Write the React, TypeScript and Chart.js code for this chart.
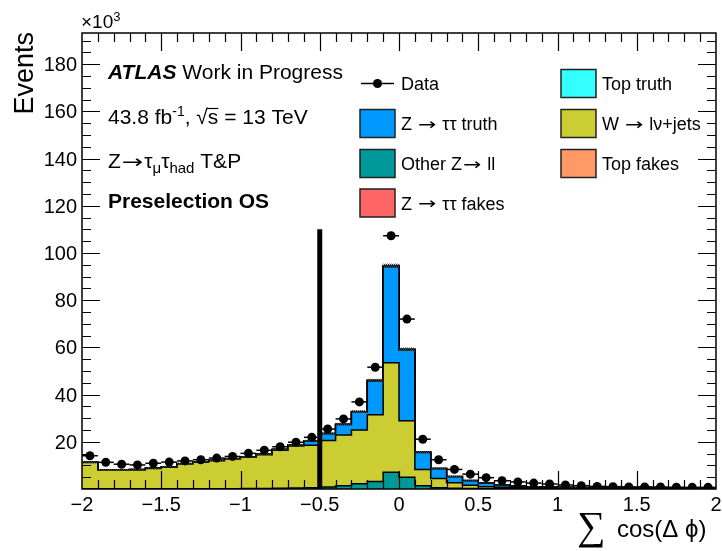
import React, { useEffect, useRef } from 'react';
import { Chart, registerables } from 'chart.js';
Chart.register(...registerables);

// ---------- data (units of 10^3 events) ----------
const binLowEdges = [
  -2.0, -1.9, -1.8, -1.7, -1.6, -1.5, -1.4, -1.3, -1.2, -1.1,
  -1.0, -0.9, -0.8, -0.7, -0.6, -0.5, -0.4, -0.3, -0.2, -0.1,
  0.0, 0.1, 0.2, 0.3, 0.4, 0.5, 0.6, 0.7, 0.8, 0.9,
  1.0, 1.1, 1.2, 1.3, 1.4, 1.5, 1.6, 1.7, 1.8, 1.9,
];
const binWidth = 0.1;

const dataValues = [
  14.1, 11.3, 10.5, 10.2, 10.9, 11.4, 11.9, 12.4, 13.1, 13.8,
  15.1, 16.4, 17.9, 19.8, 21.9, 25.4, 29.7, 36.9, 51.6, 107.3,
  72.0, 21.1, 12.4, 8.3, 6.3, 4.8, 3.5, 3.0, 2.5, 2.1,
  1.7, 1.4, 1.1, 1.0, 0.9, 0.9, 0.85, 0.75, 0.7, 0.7,
];
const otherZll = [
  0.1, 0.1, 0.1, 0.1, 0.1, 0.1, 0.1, 0.1, 0.15, 0.15,
  0.2, 0.2, 0.3, 0.4, 0.5, 0.8, 1.4, 2.2, 3.2, 7.1,
  5.0, 1.4, 0.5, 0.3, 0.2, 0.15, 0.1, 0.1, 0.1, 0.08,
  0.07, 0.06, 0.05, 0.05, 0.05, 0.04, 0.04, 0.04, 0.03, 0.03,
];
const wJets = [
  11.1, 7.9, 7.9, 8.0, 8.6, 9.1, 10.5, 11.2, 11.85, 12.55,
  13.2, 14.3, 16.1, 17.8, 18.0, 19.8, 21.5, 22.8, 28.3, 46.4,
  23.9, 6.9, 4.0, 2.4, 1.4, 0.85, 0.6, 0.4, 0.3, 0.22,
  0.18, 0.14, 0.15, 0.15, 0.1, 0.11, 0.11, 0.06, 0.07, 0.07,
];
const zttTruth = [
  0.1, 0.1, 0.1, 0.1, 0.1, 0.1, 0.1, 0.1, 0.1, 0.1,
  0.1, 0.2, 0.3, 0.4, 1.8, 2.8, 4.4, 7.6, 14.3, 40.7,
  30.0, 7.2, 4.1, 2.5, 1.9, 1.4, 1.0, 0.7, 0.5, 0.45,
  0.4, 0.35, 0.3, 0.25, 0.25, 0.2, 0.2, 0.2, 0.2, 0.2,
];
const zttFakes = [
  0.02, 0.02, 0.02, 0.02, 0.02, 0.02, 0.02, 0.02, 0.02, 0.02,
  0.03, 0.03, 0.03, 0.04, 0.05, 0.06, 0.08, 0.1, 0.15, 0.3,
  0.2, 0.08, 0.05, 0.04, 0.03, 0.02, 0.02, 0.02, 0.02, 0.02,
  0.02, 0.02, 0.02, 0.02, 0.02, 0.02, 0.02, 0.02, 0.02, 0.02,
];
const topTruth = [
  0.02, 0.02, 0.02, 0.02, 0.02, 0.02, 0.02, 0.02, 0.02, 0.02,
  0.02, 0.02, 0.02, 0.02, 0.03, 0.03, 0.03, 0.04, 0.05, 0.08,
  0.06, 0.04, 0.03, 0.03, 0.02, 0.02, 0.02, 0.02, 0.02, 0.02,
  0.02, 0.02, 0.02, 0.02, 0.02, 0.02, 0.02, 0.02, 0.02, 0.02,
];
const topFakes = [
  0.03, 0.03, 0.03, 0.03, 0.03, 0.03, 0.03, 0.03, 0.03, 0.03,
  0.03, 0.03, 0.04, 0.04, 0.05, 0.05, 0.06, 0.07, 0.08, 0.1,
  0.08, 0.06, 0.05, 0.04, 0.03, 0.03, 0.03, 0.03, 0.03, 0.03,
  0.03, 0.03, 0.03, 0.03, 0.03, 0.03, 0.03, 0.03, 0.03, 0.03,
];
const mcUncertainty = [
  0.4, 0.3, 0.3, 0.3, 0.3, 0.3, 0.3, 0.35, 0.35, 0.35,
  0.35, 0.4, 0.4, 0.4, 0.45, 0.5, 0.5, 0.6, 0.6, 0.8,
  0.7, 0.4, 0.3, 0.3, 0.2, 0.2, 0.15, 0.15, 0.1, 0.1,
  0.1, 0.1, 0.1, 0.1, 0.1, 0.1, 0.1, 0.1, 0.1, 0.1,
];

const xTickValues = [-2, -1.5, -1, -0.5, 0, 0.5, 1, 1.5, 2];
const xTickLabels = ['\u22122', '\u22121.5', '\u22121', '\u22120.5', '0', '0.5', '1', '1.5', '2'];
const yTickValues = [20, 40, 60, 80, 100, 120, 140, 160, 180];
const yTickLabels = ['20', '40', '60', '80', '100', '120', '140', '160', '180'];
const xMin = -2;
const xMax = 2;
const yMax = 193.2;
const xMinorStep = 0.1;
const yMinorStep = 5;
const cutValue = -0.5;
const cutHeight = 110;

const mcSeries = [
  { label: 'Other Z\u2192 ll', values: otherZll, color: '#009999' },
  { label: 'W \u2192 l\u03bd+jets', values: wJets, color: '#cccc33' },
  { label: 'Z \u2192 \u03c4\u03c4 truth', values: zttTruth, color: '#0099ff' },
  { label: 'Z \u2192 \u03c4\u03c4 fakes', values: zttFakes, color: '#ff6666' },
  { label: 'Top truth', values: topTruth, color: '#33ffff' },
  { label: 'Top fakes', values: topFakes, color: '#ff9966' },
];

const legendLeft = ['Data', 'Z \u2192 \u03c4\u03c4 truth', 'Other Z\u2192 ll', 'Z \u2192 \u03c4\u03c4 fakes'];
const legendRight = ['Top truth', 'W \u2192 l\u03bd+jets', 'Top fakes'];

const SANS = '"Liberation Sans", Arial, Helvetica, sans-serif';
const ARROW_FONT = '"DejaVu Sans", sans-serif';

function stepPoints(vals: number[]) {
  const pts = binLowEdges.map((x, i) => ({ x, y: vals[i] }));
  const last = binLowEdges.length - 1;
  pts.push({ x: binLowEdges[last] + binWidth, y: vals[last] });
  return pts;
}

function colorOf(label: string) {
  const s = mcSeries.find((m) => m.label === label);
  return s ? s.color : '#000';
}

// draws text; the "→" glyph is drawn wider, like ROOT's symbol-font arrow
function drawRich(ctx: CanvasRenderingContext2D, parts: any[], x: number, y: number) {
  let cx = x;
  for (const p of parts) {
    const pieces = String(p.t).split(/(\u2192)/);
    for (const piece of pieces) {
      if (!piece) continue;
      const yy = y + (p.dy || 0);
      if (piece === '\u2192') {
        ctx.font = `${p.size * 0.9}px ${ARROW_FONT}`;
        const w = ctx.measureText(piece).width;
        ctx.save();
        ctx.translate(cx + 1, yy - 0.5);
        ctx.scale(1.35, 1);
        ctx.fillText(piece, 0, 0);
        ctx.restore();
        cx += w * 1.35 + 2;
      } else {
        ctx.font = `${p.style || ''} ${p.weight || ''} ${p.size}px ${SANS}`;
        ctx.fillText(piece, cx, yy);
        cx += ctx.measureText(piece).width;
      }
    }
  }
  return cx;
}

const decorPlugin = {
  id: 'decor',
  beforeDatasetDraw(chart: any, args: any) {
    const ds = chart.data.datasets[args.index];
    const ctx: CanvasRenderingContext2D = chart.ctx;
    const xs = chart.scales.x;
    const ys = chart.scales.y;
    if (ds.label === 'cut') {
      const pc = document.createElement('canvas');
      pc.width = 2; pc.height = 2;
      const pctx = pc.getContext('2d')!;
      pctx.fillStyle = '#444';
      pctx.fillRect(0, 0, 1, 1);
      pctx.fillRect(1, 1, 1, 1);
      const pattern = ctx.createPattern(pc, 'repeat')!;
      ctx.save();
      ctx.fillStyle = pattern;
      binLowEdges.forEach((x0, i) => {
        const total = mcSeries.reduce((s, m) => s + m.values[i], 0);
        const xa = xs.getPixelForValue(x0);
        const xb = xs.getPixelForValue(x0 + binWidth);
        const ya = ys.getPixelForValue(total + mcUncertainty[i]);
        const yb = ys.getPixelForValue(Math.max(0, total - mcUncertainty[i]));
        ctx.fillRect(xa, ya, xb - xa, yb - ya);
      });
      ctx.restore();
    }
    if (ds.label === 'Data') {
      ctx.save();
      ctx.strokeStyle = '#000';
      ctx.lineWidth = 1.5;
      binLowEdges.forEach((x0, i) => {
        const y = ys.getPixelForValue(dataValues[i]);
        ctx.beginPath();
        ctx.moveTo(xs.getPixelForValue(x0), y);
        ctx.lineTo(xs.getPixelForValue(x0 + binWidth), y);
        ctx.stroke();
      });
      ctx.restore();
    }
  },
  afterDraw(chart: any) {
    const ctx: CanvasRenderingContext2D = chart.ctx;
    const a = chart.chartArea;
    const xs = chart.scales.x;
    const ys = chart.scales.y;
    ctx.save();
    ctx.strokeStyle = '#000';
    ctx.fillStyle = '#000';

    ctx.lineWidth = 1.5;
    ctx.strokeRect(a.left, a.top, a.right - a.left, a.bottom - a.top);

    const nx = Math.round((xMax - xMin) / xMinorStep);
    for (let k = 1; k < nx; k++) {
      const v = xMin + k * xMinorStep;
      const major = Math.abs(v * 2 - Math.round(v * 2)) < 1e-6;
      const len = major ? 18 : 9;
      const px = Math.round(xs.getPixelForValue(v)) + 0.5;
      ctx.lineWidth = 1.2;
      ctx.beginPath();
      ctx.moveTo(px, a.bottom);
      ctx.lineTo(px, a.bottom - len);
      ctx.moveTo(px, a.top);
      ctx.lineTo(px, a.top + len);
      ctx.stroke();
    }
    for (let v = yMinorStep; v < yMax; v += yMinorStep) {
      const major = v % 20 === 0;
      const len = major ? 18 : 9;
      const py = Math.round(ys.getPixelForValue(v)) + 0.5;
      ctx.lineWidth = 1.2;
      ctx.beginPath();
      ctx.moveTo(a.left, py);
      ctx.lineTo(a.left + len, py);
      ctx.moveTo(a.right, py);
      ctx.lineTo(a.right - len, py);
      ctx.stroke();
    }

    ctx.font = `20px ${SANS}`;
    ctx.textBaseline = 'alphabetic';
    ctx.textAlign = 'center';
    xTickValues.forEach((v, i) => {
      ctx.fillText(xTickLabels[i], xs.getPixelForValue(v), a.bottom + 22);
    });
    ctx.textAlign = 'right';
    yTickValues.forEach((v, i) => {
      ctx.fillText(yTickLabels[i], a.left - 5, ys.getPixelForValue(v) + 7);
    });

    ctx.textAlign = 'left';
    const e = drawRich(ctx, [{ t: '\u00d710', size: 19 }], a.left - 1, 28);
    drawRich(ctx, [{ t: '3', size: 13 }], e, 21);

    ctx.save();
    ctx.translate(33, a.top - 1);
    ctx.rotate(-Math.PI / 2);
    ctx.textAlign = 'right';
    ctx.font = `27px ${SANS}`;
    ctx.fillText('Events', 0, 0);
    ctx.restore();

    ctx.textAlign = 'left';
    const serif = '"Liberation Serif", "DejaVu Serif", serif';
    ctx.font = `100px ${serif}`;
    const m0 = ctx.measureText('\u2211');
    const h0 = m0.actualBoundingBoxAscent + m0.actualBoundingBoxDescent;
    const sz = (100 * 35) / (h0 || 70);
    ctx.font = `${sz}px ${serif}`;
    const m1 = ctx.measureText('\u2211');
    ctx.fillText('\u2211', 578 + m1.actualBoundingBoxLeft, 512 + m1.actualBoundingBoxAscent);
    ctx.font = `24px ${SANS}`;
    ctx.fillText('cos(\u0394 \u03d5)', 617, 537);

    const tx = 108;
    drawRich(ctx, [
      { t: 'ATLAS', size: 21, weight: 'bold', style: 'italic' },
      { t: ' Work in Progress', size: 21 },
    ], tx, 79);
    const c = drawRich(ctx, [
      { t: '43.8 fb', size: 21 },
      { t: '-1', size: 14, dy: -8 },
      { t: ', \u221a', size: 21 },
    ], tx, 124);
    ctx.font = `21px ${SANS}`;
    const sw = ctx.measureText('s').width;
    ctx.lineWidth = 1.2;
    ctx.beginPath();
    ctx.moveTo(c - 1, 124 - 15.5);
    ctx.lineTo(c + sw, 124 - 15.5);
    ctx.stroke();
    drawRich(ctx, [{ t: 's = 13 TeV', size: 21 }], c, 124);
    drawRich(ctx, [
      { t: 'Z\u2192\u03c4', size: 21 },
      { t: '\u03bc', size: 15, dy: 5 },
      { t: '\u03c4', size: 21 },
      { t: 'had', size: 15, dy: 5 },
      { t: ' T&P', size: 21 },
    ], tx, 168);
    drawRich(ctx, [{ t: 'Preselection OS', size: 21, weight: 'bold' }], tx, 208);

    const rowY = [83.5, 123.5, 163.5, 203];
    const drawEntry = (label: string, bx: number, cy: number) => {
      ctx.textAlign = 'left';
      if (label === 'Data') {
        ctx.lineWidth = 1.5;
        ctx.beginPath();
        ctx.moveTo(bx + 1, cy);
        ctx.lineTo(bx + 34, cy);
        ctx.stroke();
        ctx.beginPath();
        ctx.arc(bx + 17.5, cy, 4.5, 0, Math.PI * 2);
        ctx.fill();
      } else {
        ctx.fillStyle = colorOf(label);
        ctx.fillRect(bx, cy - 14, 35, 28);
        ctx.strokeStyle = '#222';
        ctx.lineWidth = 1.5;
        ctx.strokeRect(bx, cy - 14, 35, 28);
        ctx.fillStyle = '#000';
        ctx.strokeStyle = '#000';
      }
      drawRich(ctx, [{ t: label, size: 18 }], bx + 41, cy + 6.5);
    };
    legendLeft.forEach((l, i) => drawEntry(l, 360, rowY[i]));
    legendRight.forEach((l, i) => drawEntry(l, 561, rowY[i]));

    ctx.restore();
  },
};

export default function App() {
  const ref = useRef<HTMLCanvasElement | null>(null);
  useEffect(() => {
    document.body.style.margin = '0';
    const canvas = ref.current;
    if (!canvas) return;
    const datasets: any[] = mcSeries.map((s, i) => ({
      type: 'line',
      label: s.label,
      data: stepPoints(s.values),
      stepped: 'before',
      borderColor: '#000',
      borderWidth: 1.5,
      backgroundColor: s.color,
      fill: i === 0 ? 'origin' : '-1',
      pointRadius: 0,
      stack: 'mc',
      order: 0,
    }));
    datasets.push({
      type: 'line',
      label: 'cut',
      data: [{ x: cutValue, y: 0 }, { x: cutValue, y: cutHeight }],
      borderColor: '#000',
      borderWidth: 5,
      pointRadius: 0,
      fill: false,
      stack: 'cut',
      order: -1,
    });
    datasets.push({
      type: 'line',
      label: 'Data',
      data: binLowEdges.map((x, i) => ({ x: x + binWidth / 2, y: dataValues[i] })),
      showLine: false,
      pointRadius: 4.5,
      pointBackgroundColor: '#000',
      pointBorderColor: '#000',
      pointBorderWidth: 0,
      fill: false,
      stack: 'data',
      order: -2,
    });
    const chart = new Chart(canvas, {
      type: 'line',
      data: { datasets },
      options: {
        responsive: false,
        animation: false,
        devicePixelRatio: 1,
        layout: { padding: { left: 82, right: 6, top: 33, bottom: 62 } },
        elements: { line: { tension: 0 } },
        scales: {
          x: { type: 'linear', min: xMin, max: xMax, display: false },
          y: { type: 'linear', min: 0, max: yMax, display: false, stacked: true },
        },
        plugins: { legend: { display: false }, tooltip: { enabled: false } },
      } as any,
      plugins: [decorPlugin as any],
    });
    return () => chart.destroy();
  }, []);
  return <canvas ref={ref} width={722} height={551} style={{ display: 'block' }} />;
}
